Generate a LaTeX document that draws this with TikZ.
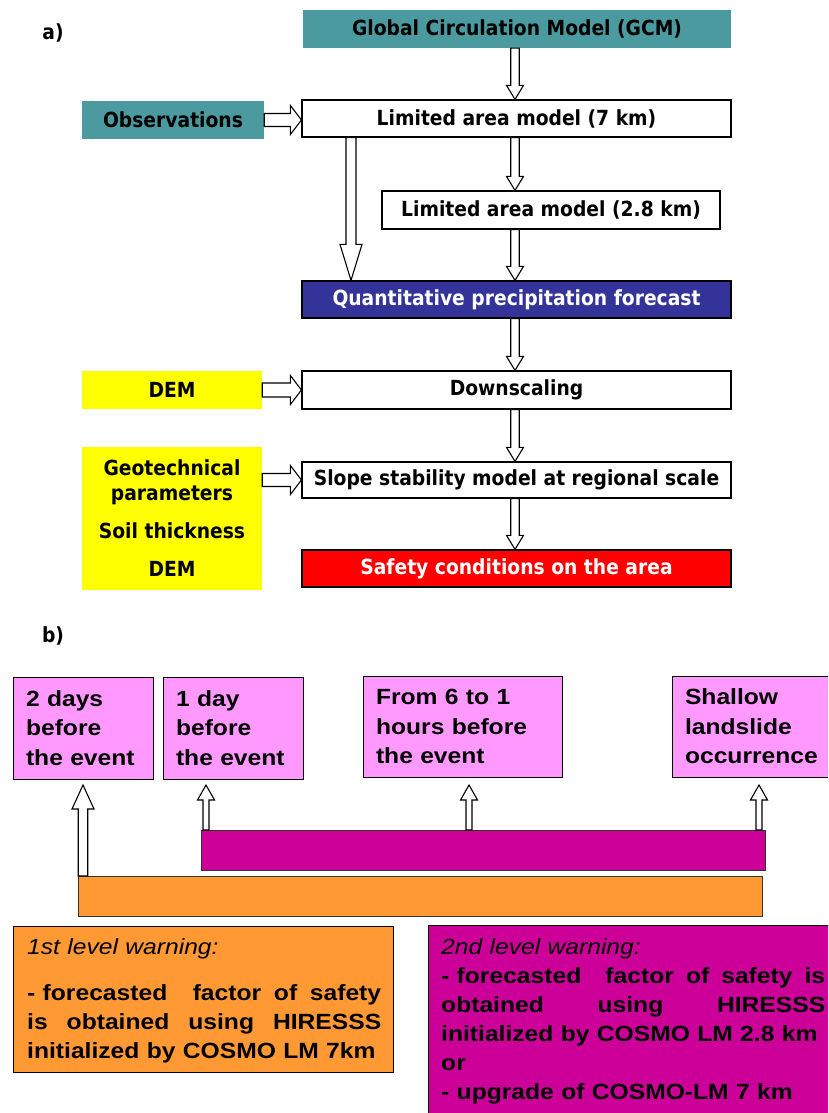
\documentclass[tikz,border=0pt]{standalone}
\usepackage{fontspec}
\usetikzlibrary{calc}
\newfontfamily\afont[FakeStretch=0.9]{DejaVu Sans}
\newfontfamily\bfam[FakeStretch=1.12]{Liberation Sans}
\definecolor{teal1}{HTML}{4A9AA0}
\definecolor{navy1}{HTML}{333399}
\definecolor{pink1}{HTML}{FF99FF}
\definecolor{mag1}{HTML}{CC0099}
\definecolor{orng1}{HTML}{FF9933}
\definecolor{yel1}{HTML}{FFFF00}
\newcommand\hdown[5]{\draw[harrow] let \p1=#1, \p2=#2 in
  (\x1-#3,\y1) -- (\x1-#3,\y2+#5) -- (\x1-#4,\y2+#5) -- (\x1,\y2) -- (\x1+#4,\y2+#5) -- (\x1+#3,\y2+#5) -- (\x1+#3,\y1) -- cycle;}
\newcommand\hup[5]{\draw[harrow] let \p1=#1, \p2=#2 in
  (\x1-#3,\y1) -- (\x1-#3,\y2-#5) -- (\x1-#4,\y2-#5) -- (\x1,\y2) -- (\x1+#4,\y2-#5) -- (\x1+#3,\y2-#5) -- (\x1+#3,\y1) -- cycle;}
\newcommand\hright[5]{\draw[harrow] let \p1=#1, \p2=#2 in
  (\x1,\y1+#3) -- (\x2-#5,\y1+#3) -- (\x2-#5,\y1+#4) -- (\x2,\y1) -- (\x2-#5,\y1-#4) -- (\x2-#5,\y1-#3) -- (\x1,\y1-#3) -- cycle;}
\tikzset{
  harrow/.style={draw=black, fill=white, line width=1.1pt, line join=miter},
  afnt/.style={font=\afont\bfseries\fontsize{20.8}{25}\selectfont},
  wbox/.style={afnt, draw=black, line width=1.2pt, fill=white, inner sep=0},
  tealbox/.style={afnt, fill=teal1, inner sep=0},
  yelbox/.style={afnt, fill=yel1, inner sep=0, align=center},
  navybox/.style={wbox, fill=navy1, text=white},
  redbox/.style={wbox, fill=red, text=white},
  bfnt/.style={font=\bfam\bfseries\fontsize{22}{29.5}\selectfont},
  pbox/.style={bfnt, draw=black, line width=0.9pt, fill=pink1, inner xsep=13pt, inner ysep=0, align=left},
  bar/.style={draw=black!80, line width=1pt, inner sep=0},
  wtext/.style={font=\bfam\bfseries\fontsize{22}{29}\selectfont, inner sep=0, anchor=base west, align=left}
}
\begin{document}
\begin{tikzpicture}[x=1pt,y=-1pt]
\clip (0,0) rectangle (828,1113);
\fill[white] (0,0) rectangle (828,1113);
% ---------- part a ----------
\node[afnt, inner sep=0] (la) at (53,33) {a)};
\node[tealbox, minimum width=428, minimum height=38] (gcm) at (517,29) {Global Circulation Model (GCM)};
\node[tealbox, minimum width=182, minimum height=38] (obs) at (173,120) {Observations};
\node[wbox, minimum width=429, minimum height=37] (lam7) at (516.5,118.5) {Limited area model (7 km)};
\node[wbox, minimum width=338, minimum height=38] (lam28) at (551,210) {Limited area model (2.8 km)};
\node[navybox, minimum width=429, minimum height=37] (qpf) at (516.5,299.5) {Quantitative precipitation forecast};
\node[yelbox, minimum width=180, minimum height=38] (dem) at (172,390) {DEM};
\node[wbox, minimum width=429, minimum height=38] (down) at (516.5,390) {Downscaling};
\node[yelbox, minimum width=180, minimum height=143] (geo) at (172,518.5) {Geotechnical\\parameters\\[13pt]Soil thickness\\[13pt]DEM};
\node[wbox, minimum width=429, minimum height=36] (slope) at (516.5,480) {Slope stability model at regional scale};
\node[redbox, minimum width=429, minimum height=37] (safe) at (516.5,568.5) {Safety conditions on the area};
\coordinate (colA) at (515,0);
\coordinate (colB) at (351,0);
\hdown{(colA |- gcm.south)}{(colA |- lam7.north)}{4.25pt}{8.5pt}{14pt}
\hdown{(colA |- lam7.south)}{(colA |- lam28.north)}{4.25pt}{8.5pt}{14pt}
\hdown{(colA |- lam28.south)}{(colA |- qpf.north)}{4.25pt}{8.5pt}{14pt}
\hdown{(colA |- qpf.south)}{(colA |- down.north)}{4.25pt}{8.5pt}{14pt}
\hdown{(colA |- down.south)}{(colA |- slope.north)}{4.25pt}{8.5pt}{14pt}
\hdown{(colA |- slope.south)}{(colA |- safe.north)}{4.25pt}{8.5pt}{14pt}
\hdown{(colB |- lam7.south)}{(colB |- qpf.north)}{5pt}{11pt}{36pt}
\hright{(obs.east)}{(lam7.west |- obs.east)}{6.5pt}{14.5pt}{11pt}
\hright{(dem.east)}{(down.west)}{7pt}{14.5pt}{11pt}
\hright{(geo.east |- slope.west)}{(slope.west)}{6.5pt}{14.5pt}{11pt}
% ---------- part b ----------
\node[afnt, inner sep=0] (lb) at (53,636) {b)};
\node[pbox, minimum width=140, text width=114, minimum height=102] (b1) at (83,728) {2 days\\before\\the event};
\node[pbox, minimum width=140, text width=114, minimum height=102] (b2) at (233,728) {1 day\\before\\the event};
\node[pbox, minimum width=199, text width=173, minimum height=101] (b3) at (462.5,726.5) {From 6 to 1\\hours before\\the event};
\node[pbox, minimum width=168, text width=142, minimum height=101] (b4) at (756,726.5) {Shallow\\landslide\\occurrence};
\node[bar, fill=mag1, minimum width=564, minimum height=40] (magbar) at (483,850.5) {};
\node[bar, fill=orng1, minimum width=684, minimum height=40] (orbar) at (420,896.5) {};
\coordinate (t1) at (83,785);
\coordinate (t2) at (206,785);
\coordinate (t3) at (469,785);
\coordinate (t4) at (759,785);
\hup{(t1 |- orbar.north)}{(t1)}{4.75pt}{11pt}{24pt}
\hup{(t2 |- magbar.north)}{(t2)}{3pt}{8.5pt}{15pt}
\hup{(t3 |- magbar.north)}{(t3)}{3pt}{8.5pt}{15pt}
\hup{(t4 |- magbar.north)}{(t4)}{3pt}{8.5pt}{15pt}
\node[bar, draw=black, fill=orng1, minimum width=380, minimum height=146] (w1) at (203,999) {};
\node[bar, draw=black, fill=mag1, minimum width=412, minimum height=200] (w2) at (634,1025) {};
\node[wtext, text width=360] (w1t) at (27,954) {{\mdseries\itshape 1st level warning:}\\[17pt]
\makebox[354pt][l]{- forecasted\hfill\hfill factor\hfill of\hfill safety}\\
\makebox[354pt][l]{is\hfill obtained\hfill using\hfill HIRESSS}\\
initialized by COSMO LM 7km};
\node[wtext, text width=390] (w2t) at (441,954) {{\mdseries\itshape 2nd level warning:}\\
\makebox[384pt][l]{- forecasted\hfill\hfill factor\hfill of\hfill safety\hfill is}\\
\makebox[384pt][l]{obtained\hfill using\hfill HIRESSS}\\
initialized by COSMO LM 2.8 km\\
or\\
- upgrade of COSMO-LM 7 km};
\end{tikzpicture}
\end{document}
